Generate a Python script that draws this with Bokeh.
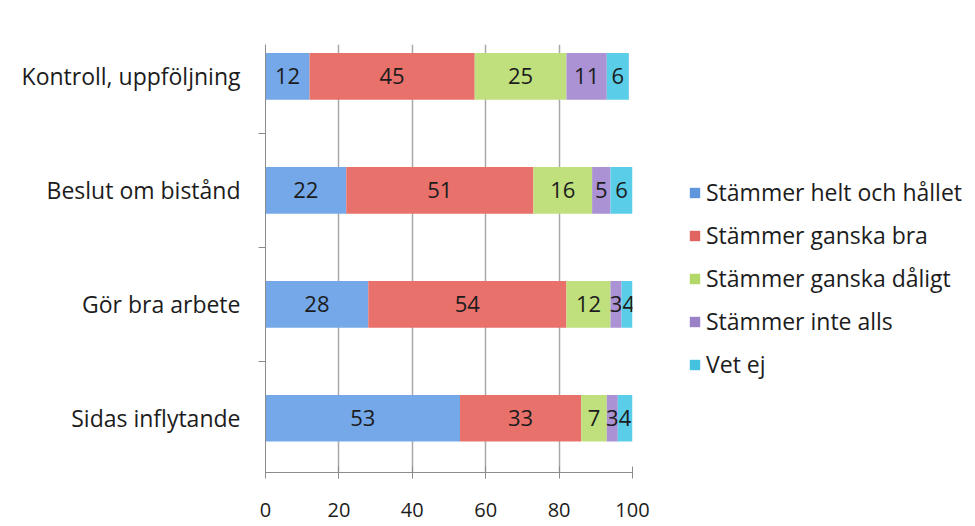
from bokeh.plotting import figure
from bokeh.models import ColumnDataSource, FixedTicker, Legend, LegendItem, Range1d
from bokeh.core.properties import value
from bokeh.embed import file_html
from bokeh.resources import INLINE

# Categories bottom -> top
categories = ["Sidas inflytande", "Gör bra arbete", "Beslut om bistånd", "Kontroll, uppföljning"]
series_names = ["Stämmer helt och hållet", "Stämmer ganska bra", "Stämmer ganska dåligt",
                "Stämmer inte alls", "Vet ej"]
helt = [53, 28, 22, 12]
ganska_bra = [33, 54, 51, 45]
ganska_daligt = [7, 12, 16, 25]
inte_alls = [3, 3, 5, 11]
vet_ej = [4, 4, 6, 6]
x_ticks = [0, 20, 40, 60, 80, 100]

series_values = [helt, ganska_bra, ganska_daligt, inte_alls, vet_ej]
colors = ["#74a8e8", "#e8716c", "#bfe07c", "#aa92d4", "#5acde8"]
legend_colors = ["#5f97dd", "#e06561", "#b2d86a", "#9b82c8", "#45c2e0"]

FONT = "Open Sans"
TXT = "#1c1c1c"

p = figure(frame_width=367, frame_height=428, min_border_left=265, min_border_right=335,
           min_border_top=44, min_border_bottom=54, output_backend="svg",
           toolbar_location=None, x_range=Range1d(0, 100), y_range=Range1d(-0.476, 3.28))
p.outline_line_color = None
p.background_fill_color = "white"

ypos = list(range(len(categories)))
left = [0] * len(categories)
items = []
for name, vals, col, lcol in zip(series_names, series_values, colors, legend_colors):
    right = [l + v for l, v in zip(left, vals)]
    mid = [(l + r) / 2 for l, r in zip(left, right)]
    src = ColumnDataSource(dict(y=ypos, left=left, right=right, mid=mid,
                                lab=[str(v) for v in vals]))
    p.hbar(y="y", left="left", right="right", height=0.41, source=src,
           fill_color=col, line_color=None)
    p.text(x="mid", y="y", text="lab", source=src, text_align="center",
           text_baseline="middle", text_font=value(FONT), text_font_size="22px",
           text_color=TXT)
    lr = p.quad(left=[-200], right=[-190], bottom=[-200], top=[-190],
                fill_color=lcol, line_color=None)
    items.append(LegendItem(label=name, renderers=[lr]))
    left = right

# x axis
p.xaxis.ticker = FixedTicker(ticks=x_ticks)
p.xaxis.major_tick_in = 6
p.xaxis.major_tick_out = 6
p.xaxis.minor_tick_line_color = None
p.xaxis.axis_line_color = "#8c8c8c"
p.xaxis.major_tick_line_color = "#8c8c8c"
p.xaxis.major_label_standoff = 24
p.xaxis.major_label_text_font = FONT
p.xaxis.major_label_text_font_size = "20px"
p.xaxis.major_label_text_color = TXT

# y axis
p.yaxis.ticker = FixedTicker(ticks=ypos, minor_ticks=[0.5, 1.5, 2.5])
p.yaxis.major_label_overrides = {i: c for i, c in enumerate(categories)}
p.yaxis.major_tick_line_color = None
p.yaxis.major_tick_out = 0
p.yaxis.major_tick_in = 0
p.yaxis.minor_tick_out = 7
p.yaxis.minor_tick_in = 0
p.yaxis.minor_tick_line_color = "#8c8c8c"
p.yaxis.axis_line_color = "#8c8c8c"
p.yaxis.major_label_standoff = 18
p.yaxis.major_label_text_font = FONT
p.yaxis.major_label_text_font_size = "23px"
p.yaxis.major_label_text_color = TXT

p.xgrid.ticker = FixedTicker(ticks=x_ticks[1:])
p.xgrid.grid_line_color = "#a8a8a8"
p.xgrid.grid_line_width = 1.5
p.ygrid.grid_line_color = None

legend = Legend(items=items, location=(56, 92), orientation="vertical",
                glyph_width=13, glyph_height=13, label_standoff=5, label_height=30,
                spacing=11, padding=0, margin=0, border_line_color=None,
                background_fill_alpha=0, label_text_font=FONT,
                label_text_font_size="23px", label_text_color=TXT)
p.add_layout(legend, "right")

open("out.html", "w").write(file_html(p, INLINE))
